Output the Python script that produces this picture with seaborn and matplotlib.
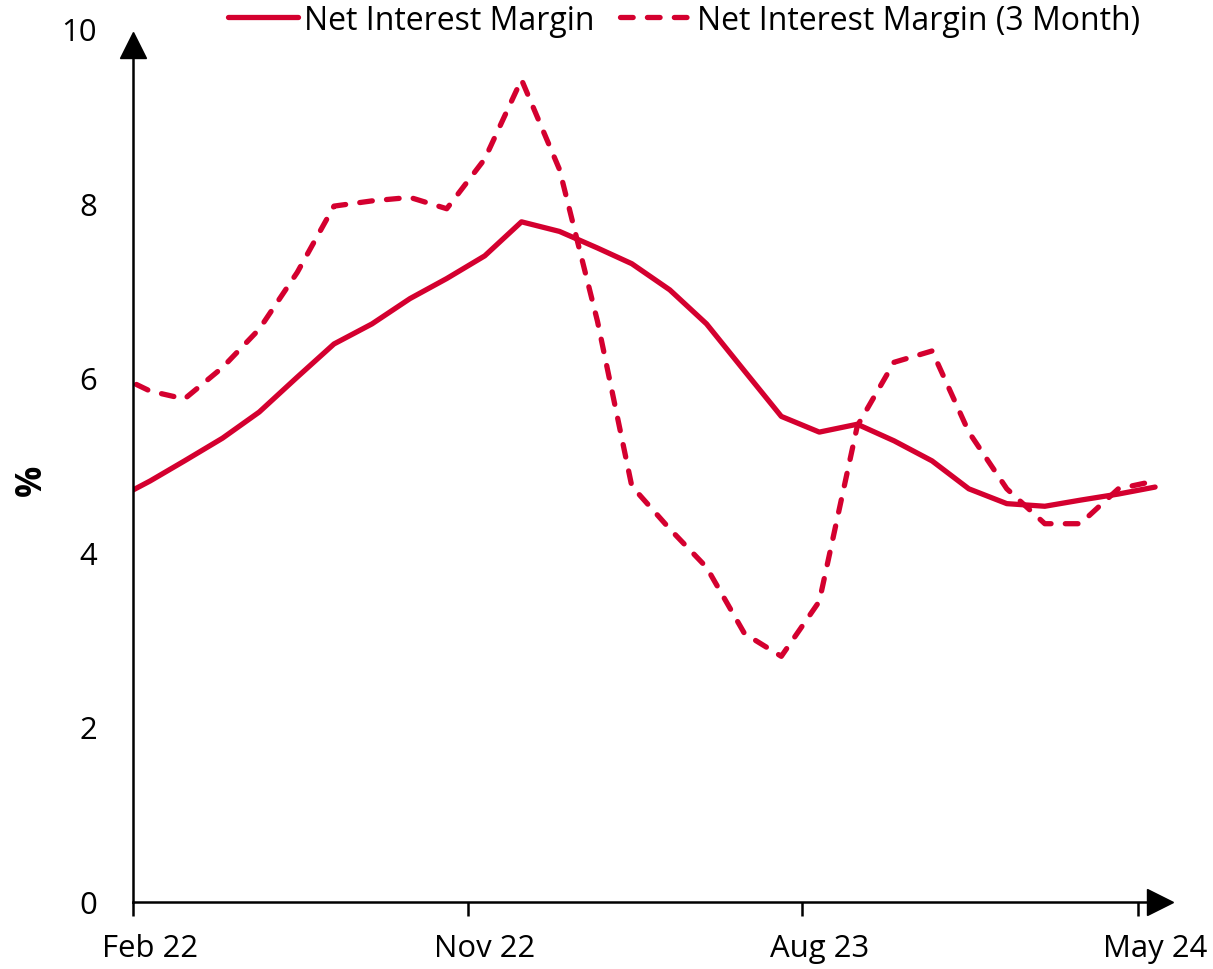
import numpy as np
import pandas as pd
import matplotlib
matplotlib.use("Agg")
import matplotlib.pyplot as plt
import matplotlib.dates as mdates
import seaborn as sns

# ---- data ----
months = pd.date_range("2022-01-01", periods=29, freq="MS") + pd.Timedelta(days=14)  # mid-month observations
nim = [4.59, 4.82, 5.05, 5.31, 5.61, 6.01, 6.39, 6.62, 6.91, 7.14, 7.40, 7.79,
       7.68, 7.49, 7.31, 7.01, 6.62, 6.08, 5.56, 5.38, 5.47, 5.28, 5.05, 4.73,
       4.56, 4.53, 4.60, 4.67, 4.75]
nim_3m = [6.06, 5.85, 5.76, 6.12, 6.56, 7.21, 7.97, 8.03, 8.07, 7.94, 8.51, 9.42,
          8.39, 6.65, 4.76, 4.27, 3.83, 3.07, 2.81, 3.44, 5.45, 6.18, 6.31, 5.38,
          4.73, 4.33, 4.33, 4.73, 4.82]
tick_dates = ["2022-02-01", "2022-11-01", "2023-08-01", "2024-05-01"]
tick_labels = ["Feb 22", "Nov 22", "Aug 23", "May 24"]
series_names = ["Net Interest Margin", "Net Interest Margin (3 Month)"]
y_ticks = [0, 2, 4, 6, 8, 10]

df = pd.DataFrame({"date": months, "nim": nim, "nim_3m": nim_3m})

RED = "#D4002F"

sns.set_theme(style="white")
plt.rcParams["font.family"] = ["Open Sans", "DejaVu Sans"]
plt.rcParams["text.color"] = "black"

fig = plt.figure(figsize=(12.13, 9.70), dpi=100)
W, H = 1213, 970
ax_left, ax_right, ax_bottom, ax_top = 133, 1160, 902.5, 30
ax = fig.add_axes([ax_left / W, 1 - ax_bottom / H, (ax_right - ax_left) / W, (ax_bottom - ax_top) / H])

sns.lineplot(data=df, x="date", y="nim", ax=ax, color=RED, linewidth=3.8,
             label=series_names[0], solid_capstyle="round")
sns.lineplot(data=df, x="date", y="nim_3m", ax=ax, color=RED, linewidth=3.8,
             linestyle=(0, (2.4, 2.7)), dash_capstyle="round", label=series_names[1])
if ax.legend_ is not None:
    ax.legend_.remove()

start = pd.Timestamp(tick_dates[0])
ax.set_xlim(start, months[-1] + pd.Timedelta(days=4))
ax.set_ylim(0, 10)

# ticks: marks at month starts, labels at mid-month
ax.set_xticks(pd.to_datetime(tick_dates))
ax.set_xticklabels([])
ax.set_xticks(pd.to_datetime(tick_dates) + pd.Timedelta(days=14), minor=True)
ax.set_xticklabels(tick_labels, minor=True)
ax.tick_params(axis="x", which="major", direction="out", length=10, width=1.8, color="black", bottom=True)
ax.tick_params(axis="x", which="minor", length=0, pad=23, labelsize=22.4, labelcolor="black", bottom=True)
ax.set_yticks(y_ticks)
ax.set_yticklabels([str(v) for v in y_ticks])
ax.tick_params(axis="y", length=0, pad=26, labelsize=22.4, labelcolor="black")

ax.set_xlabel("")
ax.set_ylabel("%", fontsize=25, fontweight="bold", color="black")
ax.yaxis.set_label_coords(-0.081, 0.484)

for s in ["top", "right"]:
    ax.spines[s].set_visible(False)
for s in ["left", "bottom"]:
    ax.spines[s].set_color("black")
    ax.spines[s].set_linewidth(1.8)
y_arrow = 9.82
ax.spines["left"].set_bounds(0, y_arrow)
ax.plot([0], [y_arrow], marker="^", color="black", markersize=19,
        transform=ax.get_yaxis_transform(), clip_on=False)
ax.plot([1], [0], marker=">", color="black", markersize=19,
        transform=ax.transAxes, clip_on=False)

handles, labels = ax.get_legend_handles_labels()
fig.legend(handles, labels, loc="center", bbox_to_anchor=(684 / W, 1 - 21 / H),
           ncol=2, frameon=False, fontsize=23, handlelength=2.2, handletextpad=0.2,
           columnspacing=0.8, borderaxespad=0, labelcolor="black")

fig.savefig("out.png", dpi=100)
